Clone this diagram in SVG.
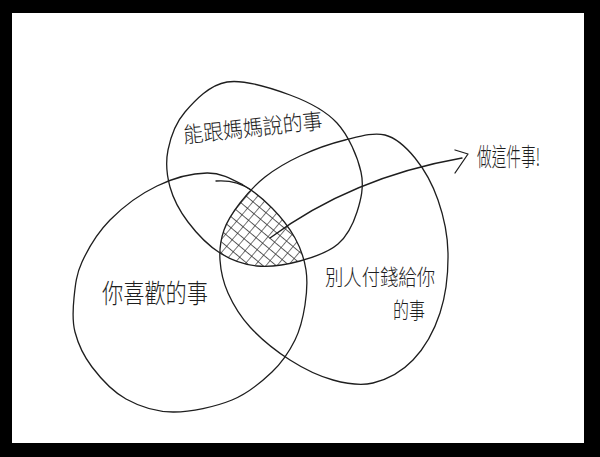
<svg xmlns="http://www.w3.org/2000/svg" xmlns:xlink="http://www.w3.org/1999/xlink" width="600" height="457" viewBox="0 0 600 457">
<style>
.ln{fill:none;stroke:#1e1e1e;stroke-width:1.3;stroke-linecap:round;stroke-linejoin:round}
.tx{font-family:"Noto Sans CJK TC","Noto Sans CJK SC",sans-serif;font-weight:300;fill:#1e1e1e}
</style>
<defs>
<path id="pTop" d="M227,82 C244.5,79.2 271.7,88.2 290,95 C308.3,101.8 325.2,110.2 337,123 C348.8,135.8 357.7,157.2 361,172 C364.3,186.8 360.8,200 357,212 C353.2,224 347.5,235.8 338,244 C328.5,252.2 313.5,257.3 300,261 C286.5,264.7 270.3,267.3 257,266 C243.7,264.7 231.5,260.3 220,253 C208.5,245.7 196.3,233 188,222 C179.7,211 173.3,199 170,187 C166.7,175 165.5,162.5 168,150 C170.5,137.5 175.2,123.3 185,112 C194.8,100.7 209.5,84.8 227,82 Z"/>
<path id="pLeft" d="M207,173 C221.3,172.8 232.2,179.2 243,185 C253.8,190.8 263.3,199.2 272,208 C280.7,216.8 289.3,227.7 295,238 C300.7,248.3 304.3,258.8 306,270 C307.7,281.2 306.8,293.3 305,305 C303.2,316.7 300.5,328.8 295,340 C289.5,351.2 282.5,362 272,372 C261.5,382 248.5,393.3 232,400 C215.5,406.7 190.7,412.2 173,412 C155.3,411.8 139.5,406.5 126,399 C112.5,391.5 100.5,378.2 92,367 C83.5,355.8 78,343.5 75,332 C72,320.5 72.8,309.7 74,298 C75.2,286.3 76,275 82,262 C88,249 97.5,232.7 110,220 C122.5,207.3 140.8,193.8 157,186 C173.2,178.2 192.7,173.2 207,173 Z"/>
<path id="pRight" d="M385,135 C396.7,138 406.2,147.2 415,158 C423.8,168.8 432.5,184.2 438,200 C443.5,215.8 447.7,234.2 448,253 C448.3,271.8 445.8,295.2 440,313 C434.2,330.8 424.2,348.3 413,360 C401.8,371.7 386.3,379.7 373,383 C359.7,386.3 346.8,383.8 333,380 C319.2,376.2 303.8,368.8 290,360 C276.2,351.2 260.3,338.2 250,327 C239.7,315.8 233,304.2 228,293 C223,281.8 220.7,270.5 220,260 C219.3,249.5 220.7,239.5 224,230 C227.3,220.5 233.2,211.8 240,203 C246.8,194.2 255,184.8 265,177 C275,169.2 286.7,162.2 300,156 C313.3,149.8 330.8,143.5 345,140 C359.2,136.5 373.3,132 385,135 Z"/>
<clipPath id="cTop"><use xlink:href="#pTop"/></clipPath>
<clipPath id="cLeft"><use xlink:href="#pLeft"/></clipPath>
<clipPath id="cRight"><use xlink:href="#pRight"/></clipPath>
<pattern id="hatch" width="8.5" height="8.5" patternUnits="userSpaceOnUse" patternTransform="rotate(40)">
<path d="M0,0 H8.5 M0,0 V8.5" stroke="#1e1e1e" stroke-width="1.2" fill="none"/>
</pattern>
</defs>
<g id="frame">
<rect x="0" y="0" width="600" height="457" fill="#000"/>
<rect x="12" y="13" width="572" height="430" fill="#fff"/>
</g>
<g id="hatch-area">
<g clip-path="url(#cTop)"><g clip-path="url(#cLeft)"><rect x="200" y="170" width="120" height="110" fill="url(#hatch)" clip-path="url(#cRight)"/></g></g>
</g>
<g id="node-mom">
<use xlink:href="#pTop" class="ln"/>
<text class="tx" x="184" y="143" font-size="22" textLength="140" lengthAdjust="spacingAndGlyphs" transform="rotate(-6 184 143)">能跟媽媽說的事</text>
</g>
<g id="node-like">
<use xlink:href="#pLeft" class="ln"/>
<path class="ln" d="M216,181 C229,180 241,183 251,190"/>
<text class="tx" x="102" y="303" font-size="26" textLength="106" lengthAdjust="spacingAndGlyphs">你喜歡的事</text>
</g>
<g id="node-paid">
<use xlink:href="#pRight" class="ln"/>
<text class="tx" x="325" y="285" font-size="22" textLength="110" lengthAdjust="spacingAndGlyphs">別人付錢給你</text>
<text class="tx" x="393" y="318" font-size="22" textLength="32" lengthAdjust="spacingAndGlyphs">的事</text>
</g>
<g id="connectors">
<path class="ln" d="M270,238 C305,212 365,175 462,158"/>
<path class="ln" d="M455,150 L468,154 L455,173"/>
</g>
<g id="node-do">
<text class="tx" x="477" y="166" font-size="25" textLength="63" lengthAdjust="spacingAndGlyphs">做這件事!</text>
</g>
</svg>
